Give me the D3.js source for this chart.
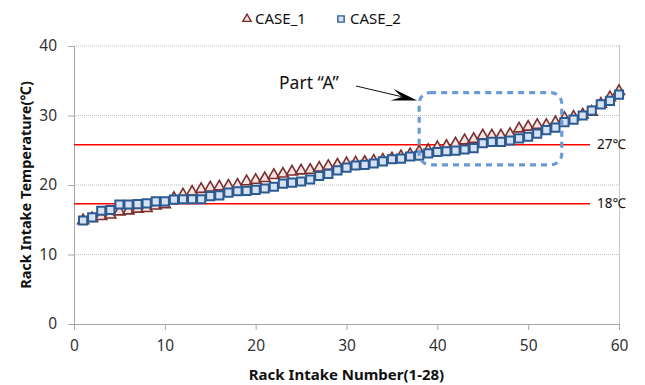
<!DOCTYPE html>
<html>
<head>
<meta charset="utf-8">
<script src="https://cdn.jsdelivr.net/npm/d3@7"></script>
<style>
  body { margin: 0; background: #fff; }
  svg { font-family: "Noto Sans", "Open Sans", sans-serif; }
</style>
</head>
<body>
<div id="chart"></div>
<script>
// Rack numbers 1..60
var rackNumbers = [1,2,3,4,5,6,7,8,9,10,11,12,13,14,15,16,17,18,19,20,
  21,22,23,24,25,26,27,28,29,30,31,32,33,34,35,36,37,38,39,40,
  41,42,43,44,45,46,47,48,49,50,51,52,53,54,55,56,57,58,59,60];

var case1 = [14.9,15.2,15.5,15.7,16.15,16.3,16.55,16.65,17.0,17.2,
  18.1,18.6,19.0,19.4,19.6,19.75,19.85,20.0,20.5,20.7,
  20.95,21.4,21.6,21.9,22.05,22.15,22.45,22.7,22.9,23.1,
  23.2,23.3,23.45,23.6,23.8,24.1,24.4,24.8,25.0,25.4,
  25.6,25.95,26.4,26.6,27.1,27.1,27.1,27.3,28.1,28.35,
  28.6,28.6,29.0,29.6,29.8,30.1,30.5,31.65,32.6,33.5];

var case2 = [14.9,15.35,16.3,16.4,17.2,17.2,17.25,17.35,17.65,17.65,
  17.9,17.95,17.95,17.95,18.4,18.5,18.9,19.1,19.15,19.3,
  19.5,19.75,20.2,20.35,20.5,20.8,21.3,21.6,22.1,22.5,
  22.8,22.9,23.1,23.4,23.7,23.8,24.1,24.2,24.55,24.75,
  24.85,24.95,25.1,25.3,26.0,26.2,26.2,26.4,26.7,26.95,
  27.4,27.9,28.25,29.05,29.4,30.0,30.7,31.6,32.1,33.0];

var xTicks = [0,10,20,30,40,50,60];
var yTicks = [0,10,20,30,40];

// reference lines (drawn where the picture puts them, labelled 27 / 18)
var refLines = [
  {value: 25.8, label: '27℃'},
  {value: 17.3, label: '18℃'}
];

// "Part A" box in data units
var partA = {x0: 38.0, x1: 53.7, y0: 22.9, y1: 33.3};

var width = 645, height = 385;
var margin = {top: 46, right: 26, bottom: 61, left: 74};

var svg = d3.select('#chart').append('svg')
  .attr('width', width)
  .attr('height', height);

var x = d3.scaleLinear().domain([0, 60]).range([margin.left, width - margin.right]);
var y = d3.scaleLinear().domain([0, 40]).range([height - margin.bottom, margin.top]);

// gridlines
svg.append('g').selectAll('line')
  .data(yTicks.filter(d => d > 0))
  .join('line')
    .attr('x1', x(0)).attr('x2', x(60))
    .attr('y1', d => y(d)).attr('y2', d => y(d))
    .attr('stroke', '#bcbcbc')
    .attr('stroke-dasharray', '1,1')
    .attr('stroke-width', 1);

// right edge line
svg.append('line')
  .attr('x1', x(60) + 0.5).attr('x2', x(60) + 0.5)
  .attr('y1', y(40) - 1).attr('y2', y(0))
  .attr('stroke', '#c8c8c8');

// axes
var xAxis = svg.append('g')
  .attr('transform', 'translate(0,' + y(0) + ')')
  .call(d3.axisBottom(x).tickValues(xTicks).tickSize(6).tickPadding(10));
var yAxis = svg.append('g')
  .attr('transform', 'translate(' + x(0) + ',0)')
  .call(d3.axisLeft(y).tickValues(yTicks).tickSize(6).tickPadding(11));

[xAxis, yAxis].forEach(function(ax) {
  ax.select('.domain').attr('stroke', '#a6a6a6');
  ax.selectAll('.tick line').attr('stroke', '#a6a6a6');
  ax.selectAll('.tick text')
    .attr('fill', '#333')
    .style('font-size', '15.5px')
    .style('font-family', '"Noto Sans", sans-serif');
});

// red reference lines
svg.append('g').selectAll('line')
  .data(refLines)
  .join('line')
    .attr('x1', x(0)).attr('x2', x(60) - 29)
    .attr('y1', d => y(d.value)).attr('y2', d => y(d.value))
    .attr('stroke', '#ff0000')
    .attr('stroke-width', 1.6);

svg.append('g').selectAll('text')
  .data(refLines)
  .join('text')
    .attr('x', x(60) - 22)
    .attr('y', d => y(d.value))
    .attr('dy', '0.35em')
    .style('font-size', '13.5px')
    .attr('fill', '#111')
    .text(d => d.label);

// markers
var tri = d3.symbol().type(d3.symbolTriangle).size(52);
var sq = d3.symbol().type(d3.symbolSquare).size(66);

svg.append('g').selectAll('path')
  .data(case1)
  .join('path')
    .attr('d', tri)
    .attr('transform', (d, i) => 'translate(' + x(rackNumbers[i]) + ',' + y(d) + ')')
    .attr('fill', '#f4e4e4')
    .attr('stroke', '#7b2f2c')
    .attr('stroke-width', 1.6);

svg.append('g').selectAll('path')
  .data(case2)
  .join('path')
    .attr('d', sq)
    .attr('transform', (d, i) => 'translate(' + x(rackNumbers[i]) + ',' + y(d) + ')')
    .attr('fill', '#d6e2f2')
    .attr('stroke', '#2c5a92')
    .attr('stroke-width', 2);

// Part A dotted box
svg.append('rect')
  .attr('x', x(partA.x0))
  .attr('y', y(partA.y1))
  .attr('width', x(partA.x1) - x(partA.x0))
  .attr('height', y(partA.y0) - y(partA.y1))
  .attr('rx', 11).attr('ry', 11)
  .attr('fill', 'none')
  .attr('stroke', '#6b9bd6')
  .attr('stroke-width', 3.2)
  .attr('stroke-dasharray', '6,5');

// annotation text + arrow
svg.append('text')
  .attr('x', 279).attr('y', 89)
  .style('font-size', '17.5px')
  .attr('fill', '#111')
  .text('Part “A”');

var tipX = x(partA.x0) - 2, tipY = y(partA.y1) + 8;
svg.append('line')
  .attr('x1', 356).attr('y1', 86)
  .attr('x2', tipX - 16).attr('y2', tipY - 4)
  .attr('stroke', '#111')
  .attr('stroke-width', 1);
// arrow head
var ang = Math.atan2(tipY - 86, tipX - 356);
var headLen = 26, headW = 6;
var bx = tipX - headLen * Math.cos(ang), by = tipY - headLen * Math.sin(ang);
var nx = -Math.sin(ang), ny = Math.cos(ang);
var mx = tipX - headLen * 0.6 * Math.cos(ang), my = tipY - headLen * 0.6 * Math.sin(ang);
svg.append('path')
  .attr('d', 'M' + tipX + ',' + tipY +
    'L' + (bx + nx * headW) + ',' + (by + ny * headW) +
    'L' + mx + ',' + my +
    'L' + (bx - nx * headW) + ',' + (by - ny * headW) + 'Z')
  .attr('fill', '#000');

// axis titles
svg.append('text')
  .attr('x', (x(0) + x(60)) / 2)
  .attr('y', 380)
  .attr('text-anchor', 'middle')
  .style('font-size', '15px')
  .style('font-weight', 'bold')
  .attr('fill', '#111')
  .text('Rack Intake Number(1-28)');

svg.append('text')
  .attr('transform', 'translate(31,' + (y(0) + y(40)) / 2 + ') rotate(-90)')
  .attr('text-anchor', 'middle')
  .style('font-size', '14.5px')
  .style('font-weight', 'bold')
  .attr('fill', '#111')
  .text('Rack Intake Temperature(℃)');

// legend
var legend = svg.append('g');
legend.append('path')
  .attr('d', d3.symbol().type(d3.symbolTriangle).size(30))
  .attr('transform', 'translate(247,19)')
  .attr('fill', '#f4e4e4').attr('stroke', '#7b2f2c').attr('stroke-width', 1.4);
legend.append('text')
  .attr('x', 255).attr('y', 19).attr('dy', '0.35em')
  .style('font-size', '15px').attr('fill', '#111')
  .text('CASE_1');
legend.append('path')
  .attr('d', d3.symbol().type(d3.symbolSquare).size(40))
  .attr('transform', 'translate(341,19)')
  .attr('fill', '#d6e2f2').attr('stroke', '#2c5a92').attr('stroke-width', 1.4);
legend.append('text')
  .attr('x', 350).attr('y', 19).attr('dy', '0.35em')
  .style('font-size', '15px').attr('fill', '#111')
  .text('CASE_2');
</script>
</body>
</html>
